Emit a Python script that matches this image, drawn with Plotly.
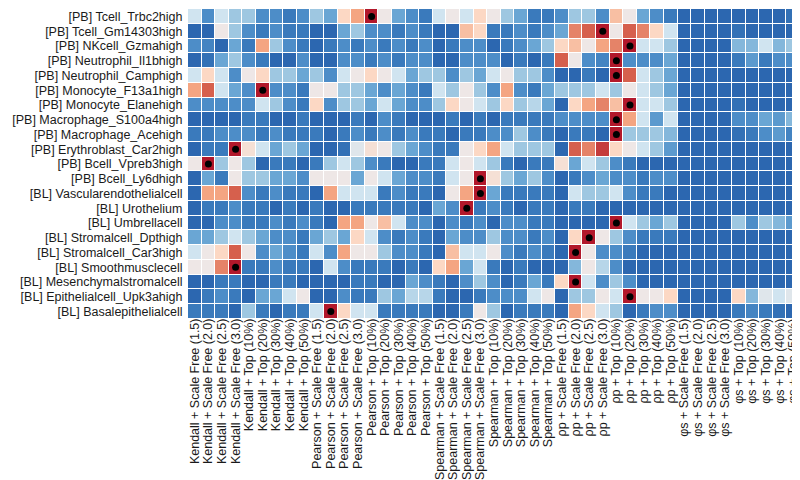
import plotly.graph_objects as go

ROW_LABELS = [
    "[PB] Tcell_Trbc2high", "[PB] Tcell_Gm14303high", "[PB] NKcell_Gzmahigh",
    "[PB] Neutrophil_Il1bhigh", "[PB] Neutrophil_Camphigh", "[PB] Monocyte_F13a1high",
    "[PB] Monocyte_Elanehigh", "[PB] Macrophage_S100a4high", "[PB] Macrophage_Acehigh",
    "[PB] Erythroblast_Car2high", "[PB] Bcell_Vpreb3high", "[PB] Bcell_Ly6dhigh",
    "[BL] Vascularendothelialcell", "[BL] Urothelium", "[BL] Umbrellacell",
    "[BL] Stromalcell_Dpthigh", "[BL] Stromalcell_Car3high", "[BL] Smoothmusclecell",
    "[BL] Mesenchymalstromalcell", "[BL] Epithelialcell_Upk3ahigh", "[BL] Basalepithelialcell",
]

METHODS = ["Kendall", "Pearson", "Spearman", "ρp", "φs"]
SETTINGS = ["Scale Free (1.5)", "Scale Free (2.0)", "Scale Free (2.5)", "Scale Free (3.0)",
            "Top (10%)", "Top (20%)", "Top (30%)", "Top (40%)", "Top (50%)"]
COL_LABELS = [f"{m} + {s}" for m in METHODS for s in SETTINGS]

# score level per cell (0 = lowest / dark blue, 10 = highest / dark red)
VALUES = [
    [5,2,5,4,4,2,2,1,2,4,3,7,8,10,6,3, 2,1,5,6,5,7,6,4,3,1,1,2,4,4, 2,7.5,6,3,2,1, 0,0,0,0,0,0,0,0,0.5],
    [0,0,6,4,2,1,2,1,1,0,0,3,4,2,2,1, 2,1,0,0,7.5,7,1,1,2,1,2,3,8.5,9, 10,6,9,8.5,7,5, 0,0,0,0,0.5,0,0,0,0],
    [2,1.5,0,3,1,8,4,2,1,0,1,2,1,2,1,2, 1,2,0,1,2,2,0,1,2,3,4,7,7.5,6, 8,8.5,10,5,5,4, 0,0,0,0,3.5,3.5,5,3.5,4],
    [0,0.5,3,4,2,1,0,0,2,0,0,2,2,1,2,1, 2,2,0,0,2,2,2,0,1,0,1,9,6,2, 1.5,10,2,2,2,3, 0,0,0,0,1,2.5,1,2,2],
    [5,7,5,2,6,7,4,4,3,4,2,5,6,7,6,5, 3,4,4,2,4,3,5,6,4,4,2,0,0,1, 0,10,9,5,4,3, 0,0,0,0,0,0,0,0,0],
    [8,9,5,3,2,10,2,2,1,6,6,4,4,3,2,3, 2,1,5,4,6,4,2,8,2,1,3,4,4,4, 5,4,6,5,4,3, 0,0,0,0,0,0,0,0,0],
    [2,2,2,2,2,5,4,2,1,7,2,4,4,3,5,3, 2,2,4,7,6,5,4,7,4,4.5,3,0,7,8, 8.5,7.5,10,5,5,4, 0,0,0,0,0.5,0,0,0,0],
    [0,0,0,0,1,1,0,0,1,0,0,0,1,0,2,1, 0,0,0,1,0,1,0,1,1,1,1,2,2,2, 2,10,8,5,2.5,5, 0,0,0,0,2,2,3,2.5,3.5],
    [1,1,2,2,2,1,2,1,1,1,0,1,2,1,2,1, 2,1,1,0,1,1,2,2,4,2,1,0,1,1, 0,10,4,4,4,3.5, 0,0,0,0,0.5,1,2,2.5,1.5],
    [0,1,1,10,6.5,5,3,4,3,0,0,0.5,5.5,6.5,6,4, 3,2,1,1,6,7,8,5,4,4,4,0,9,8.5, 9.5,7,6,5,4,2.5, 0,0,0,0,0,0,0,0,0],
    [6,10,4,6,4,0,1,1,0,1,4,5,4,2,1,0, 0,1,1,5,6,5,4,1,0,1,1,6.5,3,5, 4,2,1,0,0,0, 0,0,0,0,0,0,0,0,0],
    [0,3,1,6,4,4,3,3,2,6,6,6,3,6,5,3, 2,2,1,5,6,10,6.5,4,3,4,2,0,1,2, 3,2,2,1,2,2, 0,0,0,0,0,0,0,0,0],
    [0,8,8,9,2,1,2,1,1,0,8,5,5,5,1,2, 1,1,0,6,8,10,3,1,1,1,1,0,5,4, 4,5,2,1,1,0, 0,0,0,0,0,0,0,0,0],
    [0,1,1,2,1,1,0,1,0,1,0,0,1,1,1,1, 1,0,3,2,10,1,2,1,0,1,1,0,1,1, 0,0,0,0,0,0, 0,0,0,0,0,0,0,0,0],
    [0,0,2,2,1,1,2,1,2,1,0,8,8,6,7.5,5, 2,2,0,2,1,2,0,2,2,1,1,0,0,0, 0,10,5,4,3,4, 0,0,0,0,4,2,4,3.5,2.5],
    [3,3,4,5,4,3,2,2,1,3,4,3,7,5,2,1, 2,1,0,3,2,2,4,2,2,1,2,0,7,10, 6,4,2,1,1,1, 0,0,0,0,0,0,0,0,0],
    [5,6,7,9,6,2,3,2,1,5,2,8,6,6,4,2, 2,1,0,7.5,5,5,6,2,1,2,1,0,10,6, 2,2,1,0,0,0, 0,0,0,0,0,0,0,0,0],
    [6,6,8.5,10,1,1,2,1,1,0,5,2,1,1,1,0, 1,0,7,8,3,5,1,0,1,0,0,0,3.5,6, 4.5,2,0,0,0,0, 0,0,0,0,0,0,0,0,0],
    [0,0,1,1,0,0,1,1,0,0,0,0,1,1,0,0, 3,2,1,0,2,4,2,0,1,3,1,7,10,5, 2,4,2,0,0,0, 0,0,0,0,0,0,0,0,0],
    [0,1,2,1,0,3,3,5,6,0,0,2,1,1,4,3, 4.5,4.5,1,0,0,1,2,2,2,5,6,0,4,4, 6,5,10,6,6,7, 0,0,0,0,7,3.5,5.5,5,5.5],
    [1,1,1,0,4,1,0,1,1,5,10,7,5,5,1,1, 1,1,0,0,1,6,4,0,1,1,1,0,8,7, 5,4,0,1,2,2, 0,0,0,0,1,1.5,1,0.5,0],
]

COLORS = ["#2c67b0", "#3a7abc", "#4d8dc8", "#6aa6d4", "#9ec7e1", "#d0e4f0",
          "#eee7e6", "#fcd8c4", "#f4a582", "#d6604d", "#b2182b"]
colorscale = [[i / 10, c] for i, c in enumerate(COLORS)]

n_rows, n_cols = len(VALUES), len(VALUES[0])
xs = list(range(n_cols))
ys = list(range(n_rows))

fig = go.Figure()
fig.add_trace(go.Heatmap(
    z=VALUES, x=xs, y=ys, zmin=0, zmax=10, colorscale=colorscale,
    showscale=False, xgap=1, ygap=1, hoverinfo="skip",
))

# black dot marks the best-scoring cell of each row
dot_x = [row.index(max(row)) for row in VALUES]
fig.add_trace(go.Scatter(
    x=dot_x, y=ys, mode="markers",
    marker=dict(color="black", size=7), hoverinfo="skip", showlegend=False,
))

font = dict(family="Liberation Sans, Arial, sans-serif", size=12.5, color="#1a1a1a")
fig.update_layout(
    width=800, height=480,
    margin=dict(l=180, r=8, t=1, b=169),
    plot_bgcolor="white", paper_bgcolor="white",
    showlegend=False, font=font,
)
fig.update_xaxes(
    range=[-0.5, n_cols - 0.5], tickvals=xs, ticktext=COL_LABELS, tickangle=-90,
    showgrid=False, zeroline=False, showline=False, ticks="", tickfont=font,
    ticklabeloverflow="allow", ticklabelstandoff=-4,
)
fig.update_yaxes(
    range=[n_rows - 0.5, -0.5], tickvals=ys, ticktext=ROW_LABELS,
    showgrid=False, zeroline=False, showline=False,
    ticks="outside", ticklen=2, tickcolor="rgba(0,0,0,0)", tickfont=font,
    ticklabeloverflow="allow",
)

fig.write_html("out.html")
